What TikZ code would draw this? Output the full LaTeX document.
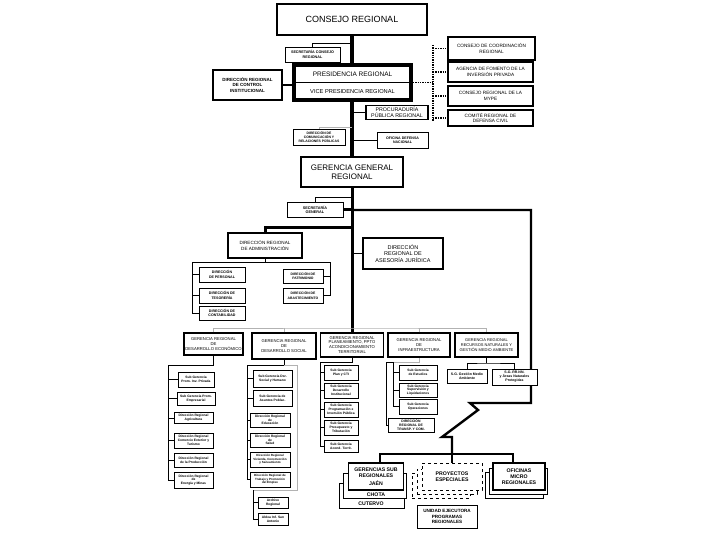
\documentclass[tikz,border=0pt]{standalone}
\usepackage{fontspec}
\setmainfont{Liberation Sans}

\begin{document}
\begin{tikzpicture}[x=1pt,y=-1pt,
		box/.style={draw, fill=white, line width=0.8pt, inner sep=0pt, align=center},
		midbox/.style={box, line width=1.5pt},
		bigbox/.style={box, line width=2.6pt},
		dbox/.style={box, dashed},
		tinytxt/.style={font=\bfseries\fontsize{3.3}{3.8}\selectfont},
		captxt/.style={font=\fontsize{4.7}{5.4}\selectfont},
		gertxt/.style={font=\fontsize{4.2}{4.9}\selectfont},
		lowtxt/.style={font=\bfseries\fontsize{5.2}{6}\selectfont},
		link/.style={line width=0.8pt},
		glink/.style={line width=0.8pt, gray!60},
		midlink/.style={line width=1.6pt},
		spine/.style={line width=4.5pt},
		spinelow/.style={line width=3pt},
		branch/.style={line width=2.4pt, line join=miter},
		dots/.style={densely dotted, line width=1.4pt}]
			\useasboundingbox (0,0) rectangle (720,540);

			\coordinate (s1) at (352,43);
			\coordinate (c1) at (352,127);
			\coordinate (g1) at (352,197);
			\coordinate (a1) at (352,228);
			\coordinate (dvt) at (433,45);
			\coordinate (dvb) at (433,121);
			\coordinate (j1) at (352,210);
			\coordinate (j2) at (531,210);
			\coordinate (j3) at (531,403);
			\coordinate (z1) at (470,403);
			\coordinate (z2) at (478,410);
			\coordinate (z3) at (442,437);
			\coordinate (z4) at (452,437);
			\coordinate (z5) at (452,454);
			\coordinate (z6) at (513,454);
			\coordinate (z7) at (380,454);
			\coordinate (gbus) at (352,328);
			\coordinate (abl) at (192,262);
			\coordinate (abr) at (330,262);
			\coordinate (e1) at (168,365);
			\coordinate (f1) at (247,365);
			\coordinate (f2) at (297,365);
			\coordinate (f3) at (253,490);
			\coordinate (h1) at (320,362);
			\coordinate (k1) at (386,362);
			\coordinate (k2) at (393,362);
			\coordinate (m1) at (486.5,363);

			\draw[branch] (j1) -- (j2) -- (j3) -- (z1) -- (z2) -- (z3) -- (z4) -- (z5);

			\node[bigbox, minimum width=150, minimum height=31, font=\fontsize{9}{10}\selectfont] (consejo) at (352,19.5) {CONSEJO REGIONAL};
			\node[box, minimum width=55, minimum height=15, font=\bfseries\fontsize{3.7}{4.3}\selectfont] (secre) at (312.5,54.5) {SECRETARÍA CONSEJO\\REGIONAL};
			\node[box, line width=3.5pt, minimum width=117, minimum height=35] (presid) at (352.5,82.5) {};
			\node[font=\fontsize{6.5}{7.5}\selectfont] (presT) at (352.5,74) {PRESIDENCIA REGIONAL};
			\node[font=\fontsize{5.7}{6.5}\selectfont] (vpresT) at (352.5,92) {VICE PRESIDENCIA REGIONAL};
			\node[box, line width=1.2pt, minimum width=69, minimum height=30, font=\bfseries\fontsize{4.5}{5.4}\selectfont] (control) at (247.5,85) {DIRECCIÓN REGIONAL\\DE CONTROL\\INSTITUCIONAL};

			\node[box, line width=1.3pt, minimum width=87, minimum height=23, captxt] (ccr) at (491.5,48.5) {CONSEJO DE COORDINACIÓN\\REGIONAL};
			\node[box, line width=1.3pt, minimum width=85, minimum height=20, captxt] (agencia) at (490.5,72) {AGENCIA DE FOMENTO DE LA\\INVERSIÓN PRIVADA};
			\node[box, line width=1.3pt, minimum width=85, minimum height=20, captxt] (mype) at (490.5,96) {CONSEJO REGIONAL DE LA\\MYPE};
			\node[box, line width=1.3pt, minimum width=85, minimum height=16, captxt] (civil) at (490.5,118) {COMITÉ REGIONAL DE\\DEFENSA CIVIL};

			\node[box, line width=1.2pt, minimum width=62, minimum height=14, font=\fontsize{5.3}{5.8}\selectfont] (procu) at (397,112.5) {PROCURADURÍA\\PÚBLICA REGIONAL};
			\node[box, minimum width=52, minimum height=16, font=\bfseries\fontsize{3.4}{4}\selectfont] (comun) at (319,137) {DIRECCIÓN DE\\COMUNICACIÓN Y\\RELACIONES PÚBLICAS};
			\node[box, minimum width=51, minimum height=16, font=\bfseries\fontsize{3.6}{4.3}\selectfont] (defnac) at (402.5,140) {OFICINA DEFENSA\\NACIONAL};
			\node[bigbox, minimum width=102, minimum height=30, font=\fontsize{8}{9.5}\selectfont] (ggr) at (352,172) {GERENCIA GENERAL\\REGIONAL};

			\node[box, minimum width=56, minimum height=15, font=\bfseries\fontsize{3.8}{4.5}\selectfont] (secgen) at (315,210) {SECRETARÍA\\GENERAL};
			\node[box, line width=1.2pt, minimum width=74, minimum height=25, font=\fontsize{4.6}{5.4}\selectfont] (adm) at (265,245.5) {DIRECCIÓN REGIONAL\\DE ADMINISTRACIÓN};
			\node[midbox, minimum width=80, minimum height=31, font=\fontsize{5.5}{6.5}\selectfont] (asesor) at (403,253.5) {DIRECCIÓN\\REGIONAL DE\\ASESORÍA JURÍDICA};

			\node[box, minimum width=46, minimum height=15, font=\bfseries\fontsize{3.6}{4.3}\selectfont] (personal) at (222,274.5) {DIRECCIÓN\\DE PERSONAL};
			\node[box, minimum width=46, minimum height=15, font=\bfseries\fontsize{3.6}{4.3}\selectfont] (tesor) at (222,295.5) {DIRECCIÓN DE\\TESORERÍA};
			\node[box, minimum width=46, minimum height=14, font=\bfseries\fontsize{3.6}{4.3}\selectfont] (contab) at (222,313) {DIRECCIÓN DE\\CONTABILIDAD};
			\node[box, minimum width=40, minimum height=14, font=\bfseries\fontsize{3.4}{4.1}\selectfont] (patrim) at (303,276) {DIRECCIÓN DE\\PATRIMONIO};
			\node[box, minimum width=40, minimum height=15, font=\bfseries\fontsize{3.4}{4.1}\selectfont] (abast) at (303,295.5) {DIRECCIÓN DE\\ABASTECIMIENTO};

			\node[midbox, minimum width=59, minimum height=22, gertxt] (gde) at (213.5,344) {GERENCIA REGIONAL\\DE\\DESARROLLO ECONÓMICO};
			\node[midbox, minimum width=64, minimum height=26, gertxt] (gds) at (284,346) {GERENCIA REGIONAL\\DE\\DESARROLLO SOCIAL};
			\node[midbox, minimum width=63, minimum height=24, gertxt] (gpp) at (352,345) {GERENCIA REGIONAL\\PLANEAMIENTO, PPTO\\ACONDICIONAMIENTO\\TERRITORIAL};
			\node[midbox, minimum width=62, minimum height=24, gertxt] (gin) at (419,345) {GERENCIA REGIONAL\\DE\\INFRAESTRUCTURA};
			\node[midbox, minimum width=63, minimum height=24, font=\fontsize{4}{4.8}\selectfont] (grn) at (486.5,345) {GERENCIA REGIONAL\\RECURSOS NATURALES Y\\GESTIÓN MEDIO AMBIENTE};

			\node[box, minimum width=36, minimum height=15, tinytxt] (sgpip) at (196,379.5) {Sub Gerencia\\Prom. Inv. Privada};
			\node[box, minimum width=38, minimum height=13, tinytxt] (sgpe) at (196,398.5) {Sub Gerencia Prom.\\Empresarial};
			\node[box, minimum width=39, minimum height=11, tinytxt] (dragri) at (193.5,418) {Dirección Regional\\Agricultura};
			\node[box, minimum width=39, minimum height=15, tinytxt] (drcet) at (193.5,440.5) {Dirección Regional\\Comercio Exterior y\\Turismo};
			\node[box, minimum width=39, minimum height=14, tinytxt] (drprod) at (193.5,460) {Dirección Regional\\de la Producción};
			\node[box, minimum width=39, minimum height=16, tinytxt] (drem) at (193.5,480) {Dirección Regional\\de\\Energía y Minas};

			\node[box, minimum width=39, minimum height=17, tinytxt] (sgdsh) at (272.5,378.5) {Sub Gerencia Dsr.\\Social y Humano};
			\node[box, minimum width=39, minimum height=16, tinytxt] (sgap) at (272.5,398) {Sub Gerencia de\\Asuntos Poblac.};
			\node[box, minimum width=40, minimum height=14, tinytxt] (dredu) at (270,420) {Dirección Regional\\de\\Educación};
			\node[box, minimum width=40, minimum height=14, tinytxt] (drsal) at (270,440) {Dirección Regional\\de\\Salud};
			\node[box, minimum width=40, minimum height=15, font=\bfseries\fontsize{3}{3.6}\selectfont] (drviv) at (270,459.5) {Dirección Regional\\Vivienda, Construcción\\y Saneamiento};
			\node[box, minimum width=40, minimum height=15, font=\bfseries\fontsize{3}{3.6}\selectfont] (drtpe) at (270,479.5) {Dirección Regional de\\Trabajo y Promoción\\del Empleo};
			\node[box, minimum width=30, minimum height=11, tinytxt] (archivo) at (273,502.5) {Archivo\\Regional};
			\node[box, minimum width=30, minimum height=12, tinytxt] (aldea) at (273,519) {Aldea Inf. San\\Antonio};

			\node[box, minimum width=34, minimum height=15, tinytxt] (sgpcti) at (341,372.5) {Sub Gerencia\\Plan y CTI};
			\node[box, minimum width=34, minimum height=15, tinytxt] (sgdi) at (341,390.5) {Sub Gerencia\\Desarrollo\\Institucional};
			\node[box, minimum width=34, minimum height=15, tinytxt] (sgpip2) at (341,409.5) {Sub Gerencia\\Programación e\\Inversión Pública};
			\node[box, minimum width=34, minimum height=15, tinytxt] (sgpt) at (341,427.5) {Sub Gerencia\\Presupuesto y\\Tributación};
			\node[box, minimum width=34, minimum height=12, tinytxt] (sgat) at (341,446) {Sub Gerencia\\Acond. Territ.};

			\node[box, minimum width=38, minimum height=15, tinytxt] (sgest) at (418,372.5) {Sub Gerencia\\de Estudios};
			\node[box, minimum width=38, minimum height=14, tinytxt] (sgsl) at (418,390) {Sub Gerencia\\Supervisión y\\Liquidaciones};
			\node[box, minimum width=38, minimum height=15, tinytxt] (sgop) at (418,406.5) {Sub Gerencia\\Operaciones};
			\node[box, minimum width=46, minimum height=14, font=\bfseries\fontsize{3.4}{4}\selectfont] (drtc) at (411,425) {DIRECCIÓN\\REGIONAL DE\\TRANSP. Y COM.};

			\node[box, minimum width=40, minimum height=14, font=\bfseries\fontsize{3.5}{4.1}\selectfont] (sggma) at (467,376) {S.G. Gestión Medio\\Ambiente};
			\node[box, minimum width=45, minimum height=16, font=\bfseries\fontsize{3.5}{4.1}\selectfont] (sgrn) at (514.5,377) {S.G. RR.NN.\\y Áreas Naturales\\Protegidas};

			\node[box, minimum width=65, minimum height=25] (gsr3) at (371.5,495.5) {};
			\node[lowtxt] (cutT) at (371,503.5) {CUTERVO};
			\node[box, minimum width=63, minimum height=25] (gsr2) at (374.5,485.5) {};
			\node[lowtxt] (choT) at (376,494.5) {CHOTA};
			\node[box, line width=1.2pt, minimum width=55, minimum height=27, lowtxt] (gsr) at (376,476.5) {GERENCIAS SUB\\REGIONALES\\[2pt]JAÉN};

			\node[dbox, minimum width=58, minimum height=25] (proy3) at (441,485.5) {};
			\node[dbox, minimum width=60, minimum height=25] (proy2) at (447,481.5) {};
			\node[dbox, minimum width=60, minimum height=27, lowtxt] (proy) at (452,476.5) {PROYECTOS\\ESPECIALES};
			\node[box, minimum width=60, minimum height=23, font=\bfseries\fontsize{4.6}{5.4}\selectfont] (unidad) at (447,516.5) {UNIDAD EJECUTORA\\PROGRAMAS\\REGIONALES};

			\node[box, minimum width=58, minimum height=26] (ofi3) at (514,485) {};
			\node[box, minimum width=58, minimum height=26] (ofi2) at (518,481) {};
			\node[box, line width=1.2pt, minimum width=52, minimum height=27, lowtxt] (ofi) at (519,476.5) {OFICINAS\\MICRO\\REGIONALES};

			\draw[spine] (consejo.south) -- (consejo.south |- presid.north);
			\draw[spine] (presid.south -| consejo.south) -- (ggr.north);
			\draw[spinelow] (ggr.south) -- (gpp.north);
			\draw[link] (presid.west) -- (presid.east);
			\draw[link] (secre.north) |- (s1);
			\draw[midlink] (control.east) -- (control.east -| presid.west);
			\draw[dots] (dvt) -- (dvb);
			\draw[dots] (presid.east) -- (presid.east -| dvt);
			\foreach \n in {ccr,agencia,mype,civil}
				\draw[dots] (dvt |- \n.west) -- (\n.west);
			\draw[midlink] (procu.west) -- (procu.west -| j1);
			\draw[glink] (comun.north) |- (c1);
			\draw[link] (defnac.west) -- (defnac.west -| j1);

			\draw[link] (secgen.north) |- (g1);
			\draw[spinelow] (secgen.east) -- (secgen.east -| j1);
			\draw[spinelow] (adm.north) |- (a1);
			\draw[midlink] (asesor.west) -- (asesor.west -| j1);
			\draw[link] (adm.south) -- (adm.south |- abl);
			\draw[link] (abl) -- (abr);
			\foreach \n in {personal,tesor,contab}
				\draw[link] (abl) |- (\n.west);
			\foreach \n in {patrim,abast}
				\draw[link] (abr) |- (\n.east);

			\draw[glink] (gde.north) |- (gbus) -| (grn.north);
			\draw[glink] (gds.north) -- (gds.north |- gbus);
			\draw[glink] (gin.north) -- (gin.north |- gbus);

			\draw[link] (gde.south) |- (e1);
			\foreach \n in {sgpip,sgpe,dragri,drcet,drprod,drem}
				\draw[link] (e1) |- (\n.west);

			\draw[link] (gds.south) |- (f1);
			\draw[glink] (gds.south |- f1) -- (f2) |- (f3);
			\foreach \n in {sgdsh,sgap,dredu,drsal,drviv,drtpe}
				\draw[link] (f1) |- (\n.west);
			\foreach \n in {archivo,aldea}
				\draw[link] (f3) |- (\n.west);

			\draw[link] (gpp.south) |- (h1);
			\foreach \n in {sgpcti,sgdi,sgpip2,sgpt,sgat}
				\draw[link] (h1) |- (\n.west);

			\draw[glink] (gin.south) |- (k1);
			\draw[link] (k1) |- (drtc.west);
			\draw[link] (k1) -- (k2);
			\foreach \n in {sgest,sgsl,sgop}
				\draw[link] (k2) |- (\n.west);

			\draw[link] (grn.south) -- (m1);
			\draw[link] (sggma.north) |- (m1) -| (sgrn.north);

			\draw[link, line width=1.2pt] (z7 |- gsr.north) -- (z7) -- (z6) -- (z6 |- ofi.north);
			\draw[link, line width=1.2pt] (z5) -- (proy.north);
		\end{tikzpicture}
\end{document}
